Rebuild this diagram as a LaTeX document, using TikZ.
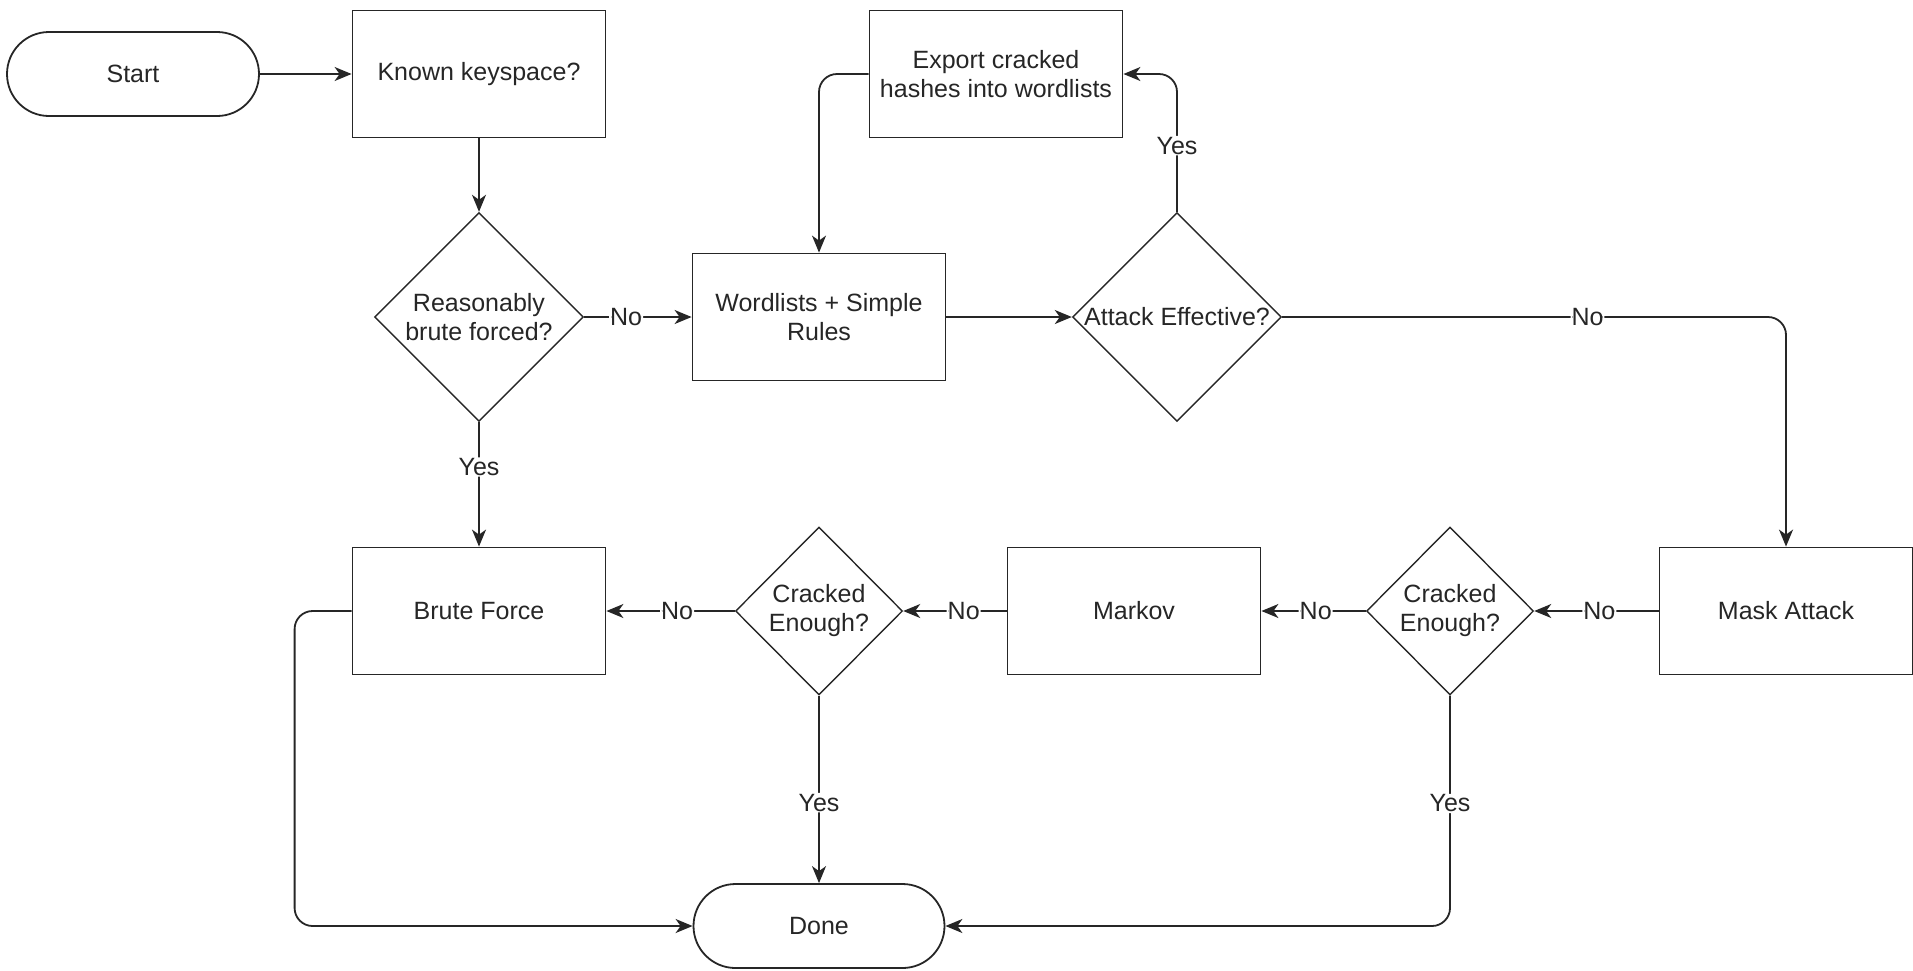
\documentclass[tikz,border=0pt]{standalone}
\usepackage{fontspec}
\setmainfont{Liberation Sans}
\usetikzlibrary{shapes.geometric,arrows.meta}
\begin{document}
\begin{tikzpicture}[x=1pt,y=-1pt,
  every node/.style={font=\fontsize{25}{29}\selectfont, text=black!85},
  box/.style={draw=black!85, line width=1.8pt, minimum width=253pt, minimum height=127pt, align=center, inner sep=2pt},
  term/.style={draw=black!85, line width=1.8pt, rounded corners=42pt, minimum width=252pt, minimum height=84pt},
  dec/.style={draw=black!85, diamond, line width=1.4pt, inner sep=0pt, align=center},
  conn/.style={draw=black!85, line width=1.8pt, -{Stealth[length=17pt,width=14pt,inset=5pt]}, rounded corners=18pt},
  lbl/.style={fill=white, inner sep=1pt}
]
\useasboundingbox (0,0) rectangle (1913,970);
% nodes
\node[term] (start) at (133,74) {Start};
\node[box] (known) at (479,74) {Known keyspace?};
\node[dec, minimum width=209pt, minimum height=209pt] (rbf) at (479,317) {Reasonably\\brute forced?};
\node[box] (wl) at (819,317) {Wordlists + Simple\\Rules};
\node[box] (export) at (996,74) {Export cracked\\hashes into wordlists};
\node[dec, minimum width=209pt, minimum height=209pt] (ae) at (1177,317) {Attack Effective?};
\node[box] (mask) at (1786,611) {Mask Attack};
\node[dec, minimum width=167pt, minimum height=168pt] (ce2) at (1450,611) {Cracked\\Enough?};
\node[box] (markov) at (1134,611) {Markov};
\node[dec, minimum width=167pt, minimum height=168pt] (ce1) at (819,611) {Cracked\\Enough?};
\node[box] (bf) at (479,611) {Brute Force};
\node[term, minimum width=251pt] (done) at (819,926) {Done};
% connectors
\draw[conn] (start.east) -- (known.west);
\draw[conn] (known.south) -- (rbf.north);
\draw[conn] (rbf.east) -- node[lbl, pos=0.39] {No} (wl.west);
\draw[conn] (rbf.south) -- node[lbl, pos=0.36] {Yes} (bf.north);
\draw[conn] (wl.east) -- (ae.west);
\draw[conn] (ae.north) |- node[lbl, pos=0.24] {Yes} (export.east);
\draw[conn] (export.west) -| (wl.north);
\draw[conn] (ae.east) -| node[lbl, pos=0.303] {No} (mask.north);
\draw[conn] (mask.west) -- node[lbl, pos=0.476] {No} (ce2.east);
\draw[conn] (ce2.west) -- node[lbl, pos=0.48] {No} (markov.east);
\draw[conn] (markov.west) -- node[lbl, pos=0.415] {No} (ce1.east);
\draw[conn] (ce1.west) -- node[lbl, pos=0.45] {No} (bf.east);
\draw[conn] (ce1.south) -- node[lbl, pos=0.57] {Yes} (done.north);
\draw[conn] (ce2.south) |- node[lbl, pos=0.234] {Yes} (done.east);
\draw[conn] (bf.west) -- ([xshift=-57pt]bf.west) |- (done.west);
\end{tikzpicture}
\end{document}
